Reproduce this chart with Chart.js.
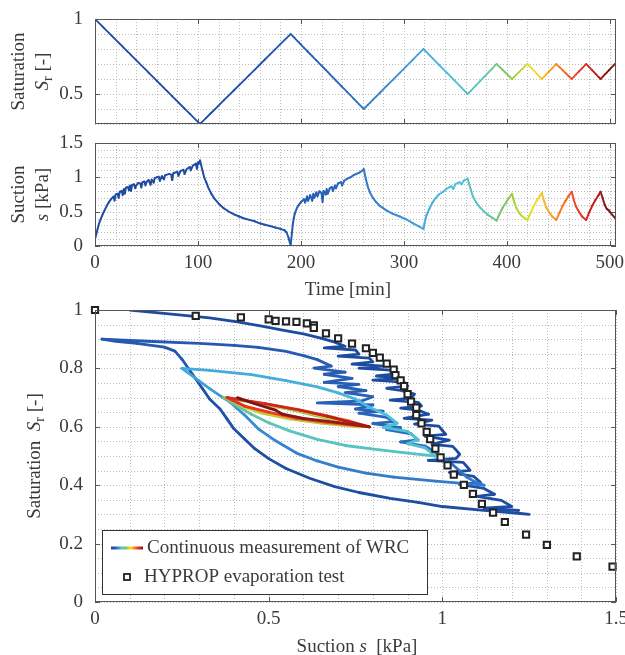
<!DOCTYPE html>
<html><head><meta charset="utf-8">
<script src="https://cdn.jsdelivr.net/npm/chart.js@4.4.1/dist/chart.umd.min.js"></script>
<style>
html,body{margin:0;padding:0;background:#fff;overflow:hidden}
#wrap{position:relative;width:625px;height:655px}
canvas{position:absolute;left:0}
</style></head><body><div id="wrap">
<canvas id="c1" width="625" height="135" style="top:0px"></canvas>
<canvas id="c2" width="625" height="165" style="top:135px"></canvas>
<canvas id="c3" width="625" height="355" style="top:300px"></canvas>
</div>
<script>
// ---------------- DATA ----------------
// time [min] of each sample
const time = [
 0,2,4,6,8,10,12,14,16,18,19,20,22,23,24,26,27,28,29,30,32,33,34,35,36,38,39,40,42,44,45,46,48,49,50,52,54,55,57,58,60,62,63,65,67,68,70,72,74,75,76,78,80,81,83,86,87,89,92,93,95,98,99,100,101,102,
 104,106,108,110,113,116,120,125,130,135,140,145,150,155,160,165,170,175,180,184,186,188,189,190,
 191,192,193,194,196,198,200,203,204,206,207,209,211,212,213,215,216,218,220,221,222,224,225,226,228,230,231,233,234,236,239,240,242,245,248,251,254,257,259,261,
 263,265,267,270,273,277,283,289,296,302,309,314,319,
 320,322,325,328,331,334,338,342,346,348,350,354,356,358,362,
 363,365,367,370,374,378,382,386,390,
 393,396,399,402,405,
 407,409,412,415,418,420,
 423,426,429,432,434,
 436,438,441,444,448,
 451,454,457,460,463,
 465,467,470,473,477,
 480,483,486,489,491,
 493,495,497,499,502,505
];
// suction s [kPa] at each sample
const suction = [
 0.10,0.22,0.33,0.41,0.48,0.54,0.60,0.65,0.69,0.72,0.66,0.75,0.76,0.70,0.79,0.80,0.74,0.83,0.76,0.85,0.86,0.81,0.88,0.80,0.89,0.90,0.84,0.88,0.92,0.91,0.85,0.93,0.94,0.88,0.93,0.96,0.89,0.97,0.92,0.99,1.00,1.01,0.95,1.02,0.97,1.03,1.04,1.05,1.04,0.96,1.06,1.07,1.08,1.02,1.09,1.11,1.05,1.12,1.15,1.10,1.17,1.20,1.12,1.22,1.20,1.25,
 1.12,1.00,0.93,0.85,0.76,0.69,0.62,0.55,0.50,0.46,0.43,0.40,0.38,0.36,0.33,0.31,0.29,0.27,0.25,0.23,0.20,0.12,0.06,0.02,
 0.15,0.30,0.40,0.47,0.55,0.60,0.64,0.68,0.63,0.72,0.66,0.74,0.66,0.76,0.70,0.78,0.72,0.80,0.77,0.64,0.80,0.75,0.83,0.76,0.84,0.86,0.80,0.88,0.84,0.91,0.93,0.88,0.95,0.98,1.00,1.03,1.05,1.07,1.09,1.12,
 0.98,0.86,0.78,0.70,0.64,0.58,0.52,0.47,0.43,0.39,0.33,0.29,0.25,
 0.33,0.45,0.55,0.64,0.70,0.75,0.79,0.84,0.87,0.83,0.90,0.93,0.90,0.95,0.98,
 0.92,0.82,0.72,0.64,0.56,0.50,0.45,0.41,0.37,
 0.47,0.56,0.63,0.70,0.76,
 0.65,0.56,0.48,0.43,0.40,0.38,
 0.48,0.58,0.66,0.73,0.77,
 0.66,0.57,0.49,0.43,0.38,
 0.48,0.58,0.66,0.73,0.79,
 0.67,0.58,0.50,0.43,0.38,
 0.49,0.59,0.67,0.74,0.79,
 0.70,0.60,0.54,0.52,0.46,0.41
];
// degree of saturation Sr [-] at each sample
const saturation = [
 1.000,0.986,0.973,0.959,0.945,0.931,0.918,0.904,0.890,0.876,0.870,0.863,0.849,0.842,0.835,0.822,0.815,0.808,0.801,0.794,0.780,0.774,0.767,0.760,0.753,0.739,0.732,0.725,0.712,0.698,0.691,0.684,0.671,0.664,0.657,0.643,0.629,0.623,0.609,0.602,0.588,0.574,0.568,0.554,0.540,0.533,0.520,0.506,0.492,0.485,0.478,0.465,0.451,0.444,0.430,0.410,0.403,0.389,0.369,0.362,0.348,0.327,0.321,0.314,0.307,0.300,
 0.314,0.327,0.341,0.355,0.375,0.395,0.423,0.457,0.491,0.525,0.559,0.593,0.627,0.661,0.695,0.730,0.764,0.798,0.832,0.859,0.873,0.886,0.893,0.900,
 0.893,0.886,0.879,0.872,0.858,0.844,0.830,0.808,0.801,0.787,0.780,0.766,0.752,0.745,0.738,0.724,0.717,0.703,0.689,0.682,0.675,0.661,0.654,0.647,0.632,0.618,0.611,0.597,0.590,0.576,0.555,0.548,0.534,0.513,0.492,0.470,0.449,0.428,0.414,0.400,
 0.414,0.428,0.441,0.462,0.483,0.510,0.552,0.593,0.641,0.683,0.731,0.766,0.800,
 0.793,0.779,0.758,0.737,0.716,0.695,0.667,0.640,0.612,0.598,0.584,0.556,0.542,0.528,0.500,
 0.507,0.521,0.536,0.557,0.586,0.614,0.643,0.671,0.700,
 0.680,0.660,0.640,0.620,0.600,
 0.613,0.627,0.647,0.667,0.687,0.700,
 0.679,0.657,0.636,0.614,0.600,
 0.614,0.629,0.650,0.671,0.700,
 0.680,0.660,0.640,0.620,0.600,
 0.614,0.629,0.650,0.671,0.700,
 0.679,0.657,0.636,0.614,0.600,
 0.614,0.629,0.643,0.657,0.679,0.700
];
// HYPROP evaporation test
const hypropSuction = [0.00,0.29,0.42,0.50,0.52,0.55,0.58,0.61,0.63,0.63,0.665,0.70,0.74,0.78,0.80,0.82,0.84,0.86,0.865,0.88,0.89,0.90,0.91,0.925,0.925,0.94,0.955,0.965,0.98,0.995,1.015,1.033,1.062,1.088,1.114,1.146,1.18,1.241,1.301,1.387,1.49];
const hypropSaturation = [1.00,0.98,0.975,0.968,0.963,0.961,0.959,0.954,0.947,0.939,0.920,0.903,0.885,0.869,0.853,0.837,0.816,0.796,0.777,0.759,0.739,0.712,0.686,0.666,0.640,0.612,0.583,0.558,0.525,0.495,0.468,0.436,0.401,0.370,0.336,0.306,0.274,0.231,0.196,0.156,0.121];

// ticks (grid positions) and labelled tick values
const timeTicks = [0,20,40,60,80,100,120,140,160,180,200,220,240,260,280,300,320,340,360,380,400,420,440,460,480,500];
const timeLabels = ['0','100','200','300','400','500'];
const srTopTicks = [0.3,0.4,0.5,0.6,0.7,0.8,0.9,1];
const srTopLabels = ['0.5','1'];
const suctionTicks = [0,0.1,0.2,0.3,0.4,0.5,0.6,0.7,0.8,0.9,1,1.1,1.2,1.3,1.4,1.5];
const suctionLabels = ['0','0.5','1','1.5'];
const srTicks = [0,0.05,0.1,0.15,0.2,0.25,0.3,0.35,0.4,0.45,0.5,0.55,0.6,0.65,0.7,0.75,0.8,0.85,0.9,0.95,1];
const srLabels = ['0','0.2','0.4','0.6','0.8','1'];

// ---------------- STYLE ----------------
const serif = '"Liberation Serif","Times New Roman",serif';
const FS = 19;
const textColor = '#3a3a3a';
const colorStopTimes = [51,146,225,290,340,376,397,412,427,441,455,470,484,498];
const colorStopHex = ['#1d4ba0','#1f4fa6','#2a62b8','#3a8dd4','#4bbfe0','#5cc5b6','#86c45c','#bcd530','#f2e228','#f8a22a','#f26d22','#e5362a','#c21f1f','#7a1414'];
function hex2rgb(h){return [parseInt(h.slice(1,3),16),parseInt(h.slice(3,5),16),parseInt(h.slice(5,7),16)];}
const stopRgb = colorStopHex.map(hex2rgb);
function colorAt(t){
  if (t <= colorStopTimes[0]) return colorStopHex[0];
  const n = colorStopTimes.length;
  if (t >= colorStopTimes[n-1]) return colorStopHex[n-1];
  let i = 0; while (t > colorStopTimes[i+1]) i++;
  const f = (t - colorStopTimes[i]) / (colorStopTimes[i+1] - colorStopTimes[i]);
  const a = stopRgb[i], b = stopRgb[i+1];
  return 'rgb(' + [0,1,2].map(k => Math.round(a[k] + (b[k]-a[k])*f)).join(',') + ')';
}
const segColor = ctx => colorAt(time[ctx.p0DataIndex]);

function mkScale(ticksArr, labels, min, max, showLabels, fitFn, pad){
  return {
    type:'linear', min, max,
    afterBuildTicks: s => { s.ticks = ticksArr.map(v => ({value:v})); },
    afterFit: s => { fitFn(s); s.paddingLeft = 0; s.paddingRight = 0; s.paddingTop = 0; s.paddingBottom = 0; },
    ticks:{display:showLabels, autoSkip:false, maxRotation:0, minRotation:0, padding:pad,
      font:{family:serif, size:FS}, color:textColor,
      callback: v => labels.includes(String(v)) ? String(v) : ''},
    grid:{display:false, drawTicks:false},
    border:{display:false}
  };
}

// Matlab-like dotted grid, box and inward major ticks (positions come from the scales)
const boxPlugin = {
  id:'mbox',
  beforeDatasetsDraw(chart, args, opts){
    const {ctx, chartArea:a} = chart; const x = chart.scales.x, y = chart.scales.y;
    ctx.save(); ctx.strokeStyle = '#bcbcbc'; ctx.lineWidth = 1; ctx.setLineDash([1,2]);
    ctx.beginPath();
    x.ticks.forEach(tk => { const p = Math.round(x.getPixelForValue(tk.value))+0.5; ctx.moveTo(p, a.top); ctx.lineTo(p, a.bottom); });
    y.ticks.forEach(tk => { const p = Math.round(y.getPixelForValue(tk.value))+0.5; ctx.moveTo(a.left, p); ctx.lineTo(a.right, p); });
    ctx.stroke(); ctx.restore();
  },
  afterDatasetsDraw(chart, args, opts){
    const {ctx, chartArea:a} = chart; const x = chart.scales.x, y = chart.scales.y;
    ctx.save(); ctx.strokeStyle = '#555'; ctx.lineWidth = 1;
    ctx.strokeRect(Math.round(a.left)+0.5, Math.round(a.top)+0.5, Math.round(a.right-a.left)-1, Math.round(a.bottom-a.top)-1);
    ctx.beginPath();
    (opts.xMajor||[]).forEach(v => { const p = Math.round(x.getPixelForValue(v))+0.5;
      ctx.moveTo(p, a.bottom); ctx.lineTo(p, a.bottom-5); ctx.moveTo(p, a.top); ctx.lineTo(p, a.top+5); });
    (opts.yMajor||[]).forEach(v => { const p = Math.round(y.getPixelForValue(v))+0.5;
      ctx.moveTo(a.left, p); ctx.lineTo(a.left+5, p); ctx.moveTo(a.right, p); ctx.lineTo(a.right-5, p); });
    ctx.stroke(); ctx.restore();
  }
};
const titlePlugin = {
  id:'rtitles',
  afterDraw(chart, args, opts){
    const ctx = chart.ctx;
    (opts.items||[]).forEach(it => {
      ctx.save(); ctx.translate(it.x, it.y); if (it.rot) ctx.rotate(-Math.PI/2);
      ctx.fillStyle = textColor; ctx.textBaseline = 'middle'; ctx.textAlign = 'left';
      let w = 0;
      const ps = it.parts.map(p => { const f = (p.i ? 'italic ' : '') + (p.sub ? Math.round(FS*0.72) : FS) + 'px ' + serif;
        ctx.font = f; const m = ctx.measureText(p.t).width; w += m; return {f, m, p}; });
      let cx = -w/2;
      ps.forEach(q => { ctx.font = q.f; ctx.fillText(q.p.t, cx, q.p.sub ? 5 : 0); cx += q.m; });
      ctx.restore();
    });
  }
};
const legendPlugin = {
  id:'wrcLegend',
  afterDraw(chart, args, opts){
    if (!opts.show) return;
    const ctx = chart.ctx;
    ctx.save();
    ctx.fillStyle = '#fff'; ctx.fillRect(102.5, 230.5, 325, 64);
    ctx.strokeStyle = '#333'; ctx.lineWidth = 1; ctx.strokeRect(102.5, 230.5, 325, 64);
    const g = ctx.createLinearGradient(111, 0, 143, 0);
    colorStopHex.forEach((c, i) => g.addColorStop(i/(colorStopHex.length-1), c));
    ctx.strokeStyle = g; ctx.lineWidth = 3; ctx.beginPath(); ctx.moveTo(111, 248); ctx.lineTo(143, 248); ctx.stroke();
    ctx.fillStyle = textColor; ctx.font = FS + 'px ' + serif; ctx.textBaseline = 'middle';
    ctx.fillText('Continuous measurement of WRC', 147, 248);
    ctx.strokeStyle = '#222'; ctx.lineWidth = 1.8; ctx.strokeRect(124, 274, 6, 6);
    ctx.fillText('HYPROP evaporation test', 144, 277);
    ctx.restore();
  }
};
Chart.register(boxPlugin, titlePlugin, legendPlugin);

const common = {responsive:false, animation:false, events:[], devicePixelRatio:1};
const lineDs = (data, w) => ({data, borderWidth:w, pointRadius:0, borderCapStyle:'round', borderJoinStyle:'round',
  segment:{borderColor:segColor}, borderColor:colorStopHex[0], fill:false, tension:0});

// ---- top: saturation vs time
new Chart(document.getElementById('c1'), {
  type:'line',
  data:{datasets:[lineDs(time.map((t,i)=>({x:t, y:saturation[i]})), 1.8)]},
  options:{...common,
    layout:{padding:{left:0, right:9, top:19, bottom:0}},
    scales:{
      x: mkScale(timeTicks, timeLabels, 0, 506, false, s => { s.height = 11; }, 6),
      y: mkScale(srTopTicks, srTopLabels, 0.3, 1, true, s => { s.width = 95; }, 12)
    },
    plugins:{legend:{display:false}, tooltip:{enabled:false},
      mbox:{xMajor:timeLabels.map(Number), yMajor:srTopLabels.map(Number)},
      rtitles:{items:[
        {x:19, y:71.5, rot:true, parts:[{t:'Saturation'}]},
        {x:43, y:71.5, rot:true, parts:[{t:'S', i:true},{t:'r', sub:true},{t:' [-]'}]}
      ]},
      wrcLegend:{show:false}}
  }
});

// ---- middle: suction vs time
new Chart(document.getElementById('c2'), {
  type:'line',
  data:{datasets:[lineDs(time.map((t,i)=>({x:t, y:suction[i]})), 2)]},
  options:{...common,
    layout:{padding:{left:0, right:9, top:8, bottom:0}},
    scales:{
      x: mkScale(timeTicks, timeLabels, 0, 506, true, s => { s.height = 54; }, 6),
      y: mkScale(suctionTicks, suctionLabels, 0, 1.5, true, s => { s.width = 95; }, 12)
    },
    plugins:{legend:{display:false}, tooltip:{enabled:false},
      mbox:{xMajor:timeLabels.map(Number), yMajor:suctionLabels.map(Number)},
      rtitles:{items:[
        {x:19, y:59.5, rot:true, parts:[{t:'Suction'}]},
        {x:43, y:59.5, rot:true, parts:[{t:'s', i:true},{t:' [kPa]'}]},
        {x:348, y:155, rot:false, parts:[{t:'Time [min]'}]}
      ]},
      wrcLegend:{show:false}}
  }
});

// ---- bottom: water retention curve
new Chart(document.getElementById('c3'), {
  type:'line',
  data:{datasets:[
    {type:'scatter', data:hypropSuction.map((s,i)=>({x:s, y:hypropSaturation[i]})), showLine:false,
     pointStyle:'rect', pointRadius:4.4, borderColor:'#222', backgroundColor:'#fff', borderWidth:2, clip:false, order:0},
    {...lineDs(suction.map((s,i)=>({x:s, y:saturation[i]})), 2.8), order:1}
  ]},
  options:{...common,
    layout:{padding:{left:0, right:9, top:10, bottom:0}},
    scales:{
      x: mkScale(suctionTicks, suctionLabels, 0, 1.5, true, s => { s.height = 53; }, 6),
      y: mkScale(srTicks, srLabels, 0, 1, true, s => { s.width = 95; }, 12)
    },
    plugins:{legend:{display:false}, tooltip:{enabled:false},
      mbox:{xMajor:suctionLabels.map(Number), yMajor:srLabels.map(Number)},
      rtitles:{items:[
        {x:35, y:156, rot:true, parts:[{t:'Saturation  '},{t:'S', i:true},{t:'r', sub:true},{t:' [-]'}]},
        {x:357, y:347, rot:false, parts:[{t:'Suction '},{t:'s', i:true},{t:'  [kPa]'}]}
      ]},
      wrcLegend:{show:true}}
  }
});
</script>
</body></html>
